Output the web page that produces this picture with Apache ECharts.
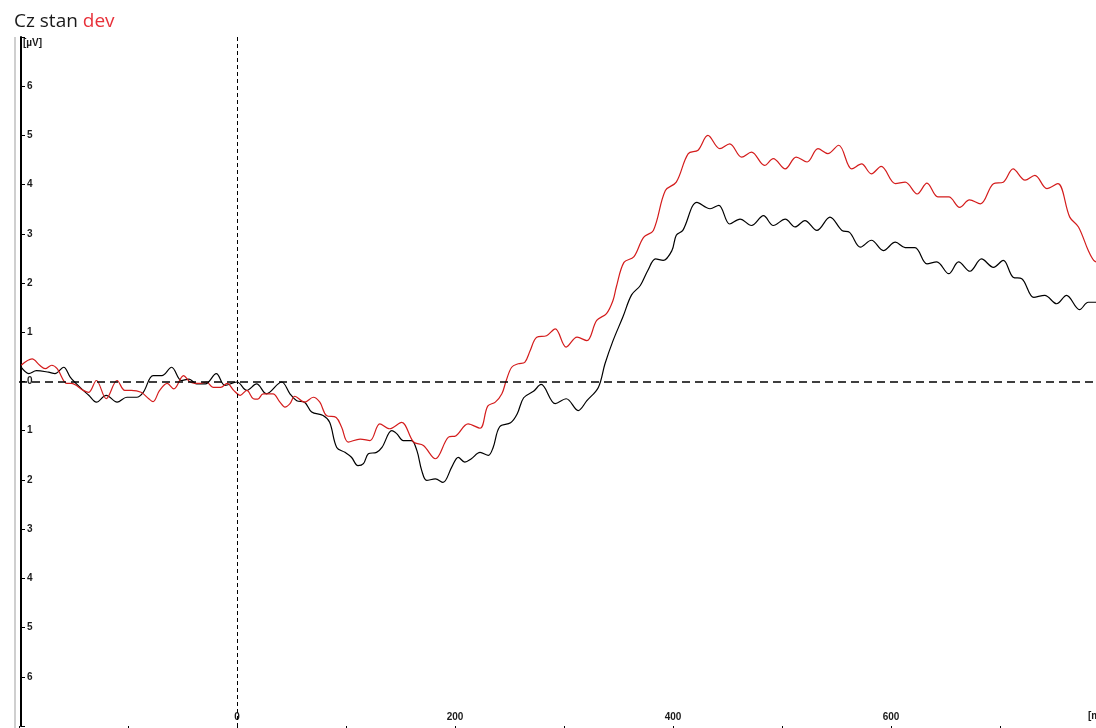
<!DOCTYPE html>
<html>
<head>
<meta charset="utf-8">
<script src="https://cdn.jsdelivr.net/npm/echarts@6/dist/echarts.min.js"></script>
<style>
html,body{margin:0;padding:0;background:#fff;}
#chart{width:1096px;height:728px;}
</style>
</head>
<body>
<div id="chart"></div>
<script>
// Time (ms) and amplitude (µV) for the "stan" (black) waveform
const stanTimes = [-198,-191,-184,-173,-167,-159,-153,-144,-136,-129,-120,-110,-101,-92,-86,-77,-69,-60,-51,-44,-37,-29,-19,-11,0,9,18,27,41,48.6,54.8,62,68.5,79,85,91.5,99,105,111,116,120.5,128,133,142,146.5,152.6,160,165,169.5,174,182,189,197,203,209,215,223,230.6,235,241,251,257,263,272,279,292,302,313,321,331.5,337.6,345,354,362,370,377,384,391,399,403,409,422,434,442,452,461.5,472,483,492,503,512,521,532,544,555,562,572,582,593,604,613,622,633,642,653,662,672.5,683,694,703,712,720,731,741,752,761,773,781,790];
const stanValues = [-0.29,-0.16,-0.22,-0.19,-0.16,-0.29,-0.09,0.12,0.28,0.42,0.28,0.42,0.32,0.32,0.22,-0.12,-0.12,-0.29,-0.02,-0.05,0.05,0.05,-0.16,0.08,0.01,0.18,0.05,0.25,0.01,0.25,0.39,0.42,0.62,0.69,0.83,1.34,1.44,1.54,1.71,1.67,1.47,1.44,1.34,1.0,1.06,1.2,1.2,1.4,1.81,2.01,1.98,2.05,1.74,1.54,1.64,1.57,1.44,1.5,1.34,0.92,0.84,0.66,0.33,0.2,0.06,0.45,0.35,0.59,0.39,0.12,-0.36,-0.83,-1.31,-1.76,-1.95,-2.26,-2.49,-2.46,-2.66,-2.97,-3.07,-3.64,-3.51,-3.58,-3.2,-3.3,-3.17,-3.37,-3.17,-3.3,-3.14,-3.27,-3.07,-3.34,-3.07,-3.03,-2.73,-2.87,-2.66,-2.83,-2.72,-2.72,-2.39,-2.43,-2.19,-2.43,-2.24,-2.49,-2.32,-2.46,-2.12,-2.09,-1.71,-1.75,-1.58,-1.75,-1.46,-1.61,-1.61];

// Time (ms) and amplitude (µV) for the "dev" (red) waveform
const devTimes = [-198,-188,-181,-176,-170,-165,-156,-152,-141,-136,-129,-120,-110,-103,-97,-88,-81,-77,-71,-64,-58,-49,-43,-34,-28,-22,-15,-9,-3,3,9,15,19,24,33,39.4,44,48.6,53,62,70,76,82,91,96,102,113,122,131,140,151,162,171,182,194,201,212,223,230,237,243,247,252,258,264,269,275,284,292,302,312,321,330,339,345,348,355,364,373,382,393,403,414,423,432,443,452,463,472,484,492,503,513,523,533,542,552,564,573,582,591,604,613,624,633,643,653,663,672,682,694,703,712,723,732,743,753,764,772,781,786,790];
const devValues = [-0.33,-0.46,-0.33,-0.26,-0.33,-0.26,0.04,0.04,0.18,0.22,-0.02,0.35,-0.02,0.18,0.18,0.22,0.35,0.41,0.18,0.04,0.15,-0.12,0.01,0.04,0.01,0.12,0.12,0.04,0.18,0.28,0.18,0.35,0.36,0.25,0.25,0.42,0.52,0.45,0.3,0.42,0.32,0.42,0.69,0.73,0.93,1.23,1.17,1.2,0.86,0.96,0.83,1.23,1.3,1.57,1.13,1.1,0.86,0.95,0.5,0.42,0.25,-0.02,-0.29,-0.36,-0.39,-0.63,-0.9,-0.93,-1.07,-0.7,-0.9,-0.83,-1.24,-1.38,-1.65,-1.92,-2.42,-2.53,-2.93,-3.07,-3.88,-4.05,-4.63,-4.7,-5.0,-4.73,-4.83,-4.56,-4.66,-4.39,-4.53,-4.32,-4.56,-4.46,-4.73,-4.63,-4.8,-4.32,-4.42,-4.22,-4.37,-4.02,-4.05,-3.81,-4.03,-3.75,-3.75,-3.54,-3.69,-3.61,-4.02,-4.05,-4.32,-4.09,-4.19,-3.92,-4.02,-3.34,-3.14,-2.66,-2.46,-2.42];

// Axis ticks
const xLabelTicks = [0,200,400,600];
const yLabelTicks = [-6,-5,-4,-3,-2,-1,0,1,2,3,4,5,6];

const pairs = (ts, vs) => ts.map((t, i) => [t, vs[i]]);

const chart = echarts.init(document.getElementById('chart'), null, {renderer: 'canvas'});
const labelFont = {fontFamily: 'Liberation Sans', fontSize: 10, color: '#1a1a1a', fontWeight: 'bold'};

chart.setOption({
  animation: false,
  backgroundColor: '#ffffff',
  title: {
    text: '{a|Cz stan }{b|dev}',
    left: 9, top: 7,
    textStyle: {
      fontWeight: 'normal',
      rich: {
        a: {fontFamily: 'Open Sans', fontSize: 19, fontWeight: 'normal', color: '#1a1a1a'},
        b: {fontFamily: 'Open Sans', fontSize: 19, fontWeight: 'normal', color: '#e8313a'}
      }
    }
  },
  grid: {left: 19, top: 37, width: 1090, height: 689, containLabel: false, outerBoundsMode: 'none'},
  xAxis: {
    type: 'value', min: -200, max: 800, interval: 100,
    axisLine: {show: false, onZero: false},
    axisTick: {show: true, length: 5, lineStyle: {color: '#000', width: 1}},
    axisLabel: {
      inside: true, margin: 4, ...labelFont,
      formatter: v => xLabelTicks.includes(v) ? String(v) : ''
    },
    splitLine: {show: false}
  },
  yAxis: {
    type: 'value', min: -7, max: 7, interval: 1, inverse: true,
    offset: -2,
    axisLine: {show: true, onZero: false, lineStyle: {color: '#000', width: 2}},
    axisTick: {show: true, inside: true, length: 4, lineStyle: {color: '#000', width: 1}},
    axisLabel: {
      inside: true, margin: 6, ...labelFont,
      formatter: v => yLabelTicks.includes(v) ? String(Math.abs(v)) : ''
    },
    splitLine: {show: false}
  },
  graphic: [
    {type: 'line', shape: {x1: 15, y1: 37, x2: 15, y2: 728}, style: {stroke: '#cfcfcf', lineWidth: 2}, silent: true},
    {type: 'text', left: 23, top: 38, style: {text: '[µV]', font: 'bold 10px "Liberation Sans"', fill: '#1a1a1a'}},
    {type: 'text', left: 1088, top: 711, style: {text: '[ms]', font: 'bold 10px "Liberation Sans"', fill: '#1a1a1a'}}
  ],
  series: [
    {
      name: 'stan', type: 'line', data: pairs(stanTimes, stanValues),
      showSymbol: false, smooth: 0.35, silent: true,
      lineStyle: {color: '#000000', width: 1.2},
      markLine: {
        silent: true, symbol: 'none', label: {show: false},
        data: [
          {yAxis: 0, lineStyle: {color: '#000', type: [8, 5], width: 1.6}},
          {xAxis: 0, lineStyle: {color: '#000', type: [4, 3], width: 1}}
        ]
      }
    },
    {
      name: 'dev', type: 'line', data: pairs(devTimes, devValues),
      showSymbol: false, smooth: 0.35, silent: true,
      lineStyle: {color: '#d41c1c', width: 1.2}
    }
  ]
});
</script>
</body>
</html>
